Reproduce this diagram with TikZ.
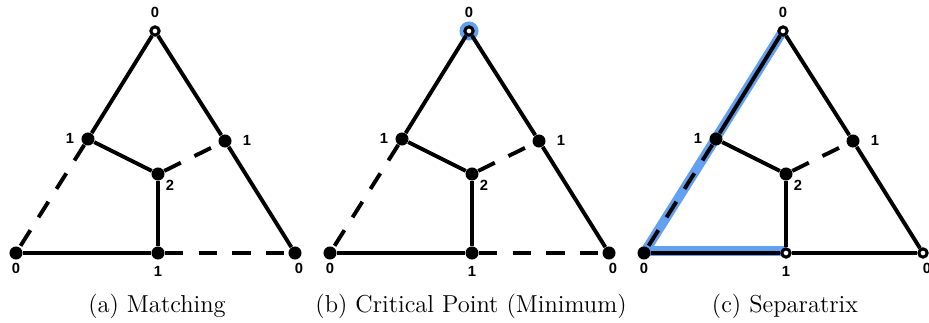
\documentclass[tikz,border=0pt]{standalone}
\usepackage{fontspec}
\newfontfamily\lblfont{Liberation Sans}
\usetikzlibrary{backgrounds}
\definecolor{sepblue}{RGB}{100,160,240}
\tikzstyle{regnode}=[circle, fill=black, inner sep=0pt, minimum size=6pt]
\tikzstyle{critnode}=[circle, draw=black, fill=white, line width=1.4pt, inner sep=0pt, minimum size=3.8pt]
\tikzstyle{numlabel}=[font=\lblfont\bfseries\fontsize{6.8}{7}\selectfont, inner sep=0pt]
\tikzstyle{capnode}=[anchor=base, inner sep=0pt, font=\fontsize{11.3}{13}\selectfont]
\tikzstyle{solidedge}=[line width=1.8pt]
\tikzstyle{dashedge}=[line width=1.8pt, dash pattern=on 8.5pt off 7pt]
\tikzstyle{sepedge}=[line width=4.4pt, sepblue]

\begin{document}
\begin{tikzpicture}[x=0.4608pt, y=-0.4608pt]
        \useasboundingbox (0,0) rectangle (929,323);
        % (a) matching
        \begin{scope}
        \node[critnode] (a-top) at (155,31) {};
        \node[regnode] (a-lm) at (88,139) {};
        \node[regnode] (a-rm) at (225,141) {};
        \node[regnode] (a-c) at (158,174) {};
        \node[regnode] (a-bl) at (16,253) {};
        \node[regnode] (a-bm) at (158,253) {};
        \node[regnode] (a-br) at (295,253) {};
        \draw[solidedge] (a-top) -- (a-lm);
        \draw[dashedge] (a-lm) -- (a-bl);
        \draw[solidedge] (a-top) -- (a-rm);
        \draw[solidedge] (a-rm) -- (a-br);
        \draw[solidedge] (a-bl) -- (a-bm);
        \draw[dashedge] (a-bm) -- (a-br);
        \draw[solidedge] (a-lm) -- (a-c);
        \draw[dashedge] (a-c) -- (a-rm);
        \draw[solidedge] (a-c) -- (a-bm);
        \node[numlabel] (a-ltop) at (155,12) {0};
        \node[numlabel] (a-llm) at (70,138) {1};
        \node[numlabel] (a-lrm) at (247,140) {1};
        \node[numlabel] (a-lc) at (170,185) {2};
        \node[numlabel] (a-lbl) at (16,268) {0};
        \node[numlabel] (a-lbm) at (158,271) {1};
        \node[numlabel] (a-lbr) at (299,268) {0};
        \node[capnode] (a-cap) at (157,312) {(a) Matching};
        \end{scope}
        % (b) critical point
        \begin{scope}[xshift=314*0.4608pt]
        \node[circle, fill=sepblue, inner sep=0pt, minimum size=8.8pt] (b-halo) at (155,31) {};
        \node[critnode] (b-top) at (155,31) {};
        \node[regnode] (b-lm) at (88,139) {};
        \node[regnode] (b-rm) at (225,141) {};
        \node[regnode] (b-c) at (158,174) {};
        \node[regnode] (b-bl) at (16,253) {};
        \node[regnode] (b-bm) at (158,253) {};
        \node[regnode] (b-br) at (295,253) {};
        \draw[solidedge] (b-top) -- (b-lm);
        \draw[dashedge] (b-lm) -- (b-bl);
        \draw[solidedge] (b-top) -- (b-rm);
        \draw[solidedge] (b-rm) -- (b-br);
        \draw[solidedge] (b-bl) -- (b-bm);
        \draw[dashedge] (b-bm) -- (b-br);
        \draw[solidedge] (b-lm) -- (b-c);
        \draw[dashedge] (b-c) -- (b-rm);
        \draw[solidedge] (b-c) -- (b-bm);
        \node[numlabel] (b-ltop) at (155,12) {0};
        \node[numlabel] (b-llm) at (70,138) {1};
        \node[numlabel] (b-lrm) at (247,140) {1};
        \node[numlabel] (b-lc) at (170,185) {2};
        \node[numlabel] (b-lbl) at (16,268) {0};
        \node[numlabel] (b-lbm) at (158,271) {1};
        \node[numlabel] (b-lbr) at (299,268) {0};
        \node[capnode] (b-cap) at (157,312) {(b) Critical Point (Minimum)};
        \end{scope}
        % (c) separatrix
        \begin{scope}[xshift=628*0.4608pt]
        \node[critnode] (c-top) at (155,31) {};
        \node[regnode] (c-lm) at (88,139) {};
        \node[regnode] (c-rm) at (225,141) {};
        \node[regnode] (c-c) at (158,174) {};
        \node[regnode] (c-bl) at (16,253) {};
        \node[critnode] (c-bm) at (158,253) {};
        \node[critnode] (c-br) at (295,253) {};
        \begin{scope}[on background layer]
        \draw[sepedge] (c-top.center) -- (c-bl.center);
        \draw[sepedge] ([yshift=0.8pt]c-bl.center) -- ([yshift=0.8pt]c-bm.center);
        \end{scope}
        \draw[solidedge] (c-top) -- (c-lm);
        \draw[dashedge] (c-lm) -- (c-bl);
        \draw[solidedge] (c-top) -- (c-rm);
        \draw[solidedge] (c-rm) -- (c-br);
        \draw[solidedge] (c-bl) -- (c-bm);
        \draw[solidedge] (c-bm) -- (c-br);
        \draw[solidedge] (c-lm) -- (c-c);
        \draw[dashedge] (c-c) -- (c-rm);
        \draw[solidedge] (c-c) -- (c-bm);
        \node[numlabel] (c-ltop) at (155,12) {0};
        \node[numlabel] (c-llm) at (70,138) {1};
        \node[numlabel] (c-lrm) at (247,140) {1};
        \node[numlabel] (c-lc) at (170,185) {2};
        \node[numlabel] (c-lbl) at (16,268) {0};
        \node[numlabel] (c-lbm) at (158,271) {1};
        \node[numlabel] (c-lbr) at (299,268) {0};
        \node[capnode] (c-cap) at (157,312) {(c) Separatrix};
        \end{scope}
      \end{tikzpicture}
\end{document}
